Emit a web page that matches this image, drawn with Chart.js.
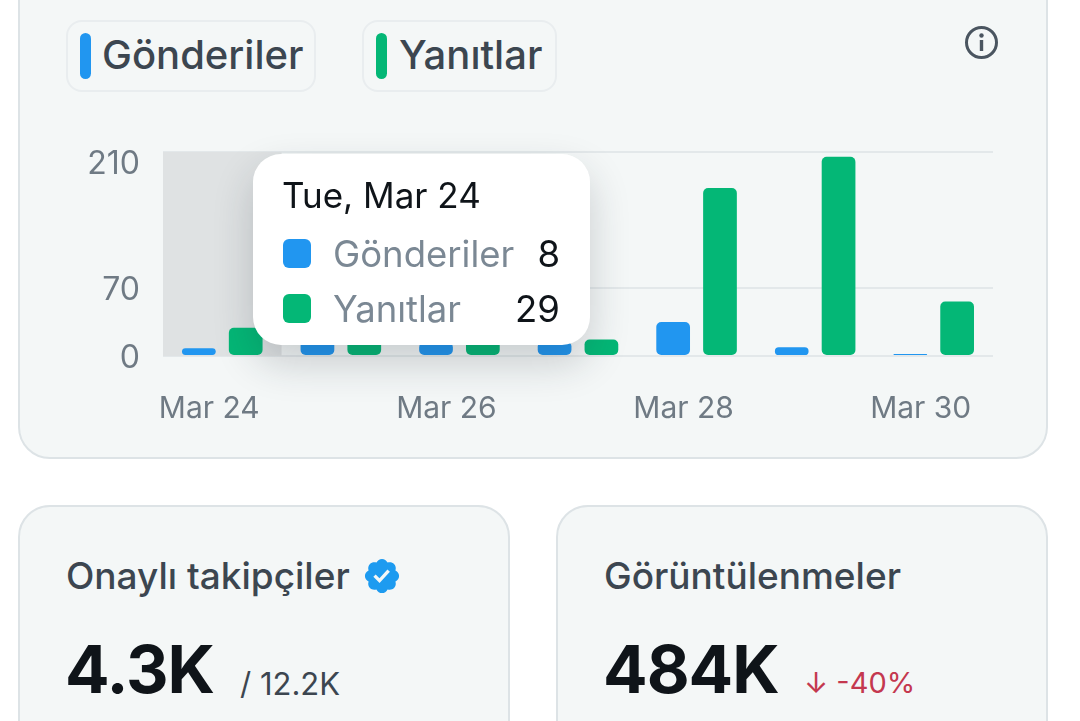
<!DOCTYPE html>
<html>
<head>
<meta charset="utf-8">
<script src="https://cdn.jsdelivr.net/npm/chart.js@4"></script>
<style>
    html, body { margin: 0; width: 1080px; height: 721px; overflow: hidden; background: #fff; font-family: Inter, sans-serif; }
    .abs { position: absolute; white-space: nowrap; line-height: 1; }
    .card { position: absolute; box-sizing: border-box; background: #f4f7f7; border: 2px solid #dde3e6; border-radius: 32px; }
    .chip { position: absolute; box-sizing: border-box; top: 20px; height: 72px; border: 2px solid #e9edef; border-radius: 16px; }
    .pill { position: absolute; top: 33px; width: 11px; height: 46px; border-radius: 6px; }
    .chipText { font-size: 40px; font-weight: 500; color: #3c4650; top: 35px; }
    .cardTitle { font-size: 37px; font-weight: 500; color: #3c4650; top: 557px; }
    .bigValue { font-size: 66px; font-weight: 700; color: #0f1419; top: 636px; letter-spacing: -1px; }
    .subValue { top: 668px; }
    #chart { position: absolute; left: 60px; top: 130px; }
    #tooltip { position: absolute; left: 253px; top: 154px; width: 337px; height: 191px; background: #fff; border-radius: 28px; box-shadow: 0 18px 40px rgba(30, 40, 50, .2); color: #0f1419; }
    #tooltip .title { position: absolute; left: 29px; top: 23px; font-size: 35px; line-height: 36px; white-space: nowrap; }
    #tooltip .swatch { position: absolute; left: 30px; width: 28px; height: 29px; border-radius: 6px; }
    #tooltip .label { position: absolute; left: 80px; font-size: 36.5px; line-height: 36px; color: #7b8894; white-space: nowrap; }
    #tooltip .value { position: absolute; right: 30px; font-size: 36.5px; line-height: 36px; white-space: nowrap; }
</style>
</head>
<body>

<div class="card" style="left:18px; top:-60px; width:1030px; height:519px"></div>
<div class="card" style="left:18px; top:505px; width:492px; height:300px"></div>
<div class="card" style="left:556px; top:505px; width:492px; height:300px"></div>

<div class="chip" style="left:66px; width:250px"></div>
<div class="pill" style="left:80px; background:#2196f0"></div>
<div class="abs chipText" id="legend0" style="left:102px"></div>
<div class="chip" style="left:362px; width:195px"></div>
<div class="pill" style="left:376px; background:#04b776"></div>
<div class="abs chipText" id="legend1" style="left:399px"></div>

<svg class="abs" style="left:964px; top:25px" width="35" height="35" viewBox="0 0 35 35" fill="none">
    <circle cx="17.5" cy="17.5" r="15" stroke="#4a5560" stroke-width="3"/>
    <rect x="15.8" y="15" width="3.4" height="11" fill="#4a5560"/>
    <circle cx="17.5" cy="10.5" r="2.2" fill="#4a5560"/>
</svg>

<canvas id="chart" width="960" height="300"></canvas>
<div id="tooltip"></div>

<div class="abs cardTitle" style="left:66px">Onaylı takipçiler</div>
<svg class="abs" style="left:362px; top:556px" width="40" height="40" viewBox="0 0 24 24">
    <path fill="#1d9bf0" d="M22.25 12c0-1.43-.88-2.67-2.19-3.34.46-1.39.2-2.9-.81-3.91s-2.52-1.27-3.91-.81c-.66-1.31-1.91-2.19-3.34-2.19s-2.67.88-3.33 2.19c-1.4-.46-2.91-.2-3.92.81s-1.26 2.52-.8 3.91c-1.31.67-2.2 1.91-2.2 3.34s.89 2.67 2.2 3.34c-.46 1.39-.21 2.9.8 3.91s2.52 1.26 3.91.81c.67 1.31 1.91 2.19 3.34 2.19s2.68-.88 3.34-2.19c1.39.45 2.9.2 3.91-.81s1.27-2.52.81-3.91c1.31-.67 2.19-1.91 2.19-3.34zm-11.71 4.2L6.8 12.46l1.41-1.42 2.26 2.26 4.8-5.23 1.47 1.36-6.2 6.77z"/>
</svg>
<div class="abs bigValue" style="left:65px">4.3K</div>
<div class="abs subValue" style="left:240px; font-size:31px; color:#3c4650">/ 12.2K</div>

<div class="abs cardTitle" style="left:604px">Görüntülenmeler</div>
<div class="abs bigValue" style="left:603px">484K</div>
<div class="abs subValue" style="left:804px; font-size:29px; color:#c4384f">↓ -40%</div>

<script>
const categories = ['Mar 24', 'Mar 25', 'Mar 26', 'Mar 27', 'Mar 28', 'Mar 29', 'Mar 30'];
const tooltipTitles = ['Tue, Mar 24', 'Wed, Mar 25', 'Thu, Mar 26', 'Fri, Mar 27', 'Sat, Mar 28', 'Sun, Mar 29', 'Mon, Mar 30'];
const postValues = [8, 16, 14, 15, 35, 9, 2];
const replyValues = [29, 20, 18, 17, 173, 205, 56];
const yTicks = [0, 70, 210];
const seriesNames = ['Gönderiler', 'Yanıtlar'];
const seriesColors = ['#2196f0', '#04b776'];
const activeIndex = 0;

document.getElementById('legend0').textContent = seriesNames[0];
document.getElementById('legend1').textContent = seriesNames[1];

// grey band behind the hovered day
const hoverBand = {
    id: 'hoverBand',
    beforeDatasetsDraw(chart) {
        const { ctx, chartArea, scales } = chart;
        const step = scales.x.getPixelForValue(1) - scales.x.getPixelForValue(0);
        const center = scales.x.getPixelForValue(activeIndex);
        ctx.save();
        ctx.fillStyle = '#dfe2e3';
        ctx.fillRect(center - step / 2, chartArea.top, step, chartArea.height);
        ctx.restore();
    },
};

const renderTooltip = ({ tooltip }) => {
    if (!tooltip.dataPoints || !tooltip.dataPoints.length) return;
    const box = document.getElementById('tooltip');
    let html = `<div class="title">${tooltip.title[0]}</div>`;
    tooltip.dataPoints.forEach((point, i) => {
        const top = 85 + i * 55;
        html += `<div class="swatch" style="top:${top}px; background:${seriesColors[i]}"></div>`;
        html += `<div class="label" style="top:${top - 3}px">${point.dataset.label}</div>`;
        html += `<div class="value" style="top:${top - 3}px">${point.raw}</div>`;
    });
    box.innerHTML = html;
};

const chart = new Chart(document.getElementById('chart'), {
    type: 'bar',
    data: {
        labels: categories,
        datasets: [
            { label: seriesNames[0], data: postValues, backgroundColor: seriesColors[0] },
            { label: seriesNames[1], data: replyValues, backgroundColor: seriesColors[1] },
        ],
    },
    options: {
        responsive: false,
        animation: false,
        events: [],
        layout: { padding: { top: 22, right: 27, bottom: 0, left: 0 } },
        datasets: {
            bar: {
                categoryPercentage: 0.79,
                barPercentage: 0.72,
                borderRadius: 5,
                borderSkipped: false,
            },
        },
        plugins: {
            legend: { display: false },
            tooltip: {
                enabled: false,
                mode: 'index',
                external: renderTooltip,
                callbacks: { title: items => tooltipTitles[items[0].dataIndex] },
            },
        },
        scales: {
            x: {
                grid: { display: false, drawTicks: false },
                border: { display: false },
                afterFit: scale => {
                    scale.height = 74;
                    scale.paddingLeft = 0;
                    scale.paddingRight = 0;
                },
                ticks: {
                    autoSkip: false,
                    maxRotation: 0,
                    labelOffset: -13,
                    padding: 35,
                    color: '#6f7a84',
                    font: { family: 'Inter', size: 30 },
                    callback: function (value, index) {
                        return index % 2 === 0 ? this.getLabelForValue(value) : '';
                    },
                },
            },
            y: {
                min: 0,
                max: 210,
                afterBuildTicks: scale => { scale.ticks = yTicks.map(value => ({ value })); },
                afterFit: scale => {
                    scale.width = 103;
                    scale.paddingTop = 0;
                    scale.paddingBottom = 0;
                },
                grid: { color: '#e3e8ea', lineWidth: 2, drawTicks: false },
                border: { display: false },
                ticks: {
                    padding: 23,
                    labelOffset: 2,
                    color: '#6f7a84',
                    font: ctx => ({ family: 'Inter', size: 32, lineHeight: ctx.index === 2 ? '20px' : 1.2 }),
                    // top label sits just under its grid line
                    callback: value => (value === 210 ? ['', '210'] : String(value)),
                },
            },
        },
    },
    plugins: [hoverBand],
});

chart.tooltip.setActiveElements(
    [{ datasetIndex: 0, index: activeIndex }, { datasetIndex: 1, index: activeIndex }],
    { x: 0, y: 0 }
);
chart.update();
</script>
</body>
</html>
